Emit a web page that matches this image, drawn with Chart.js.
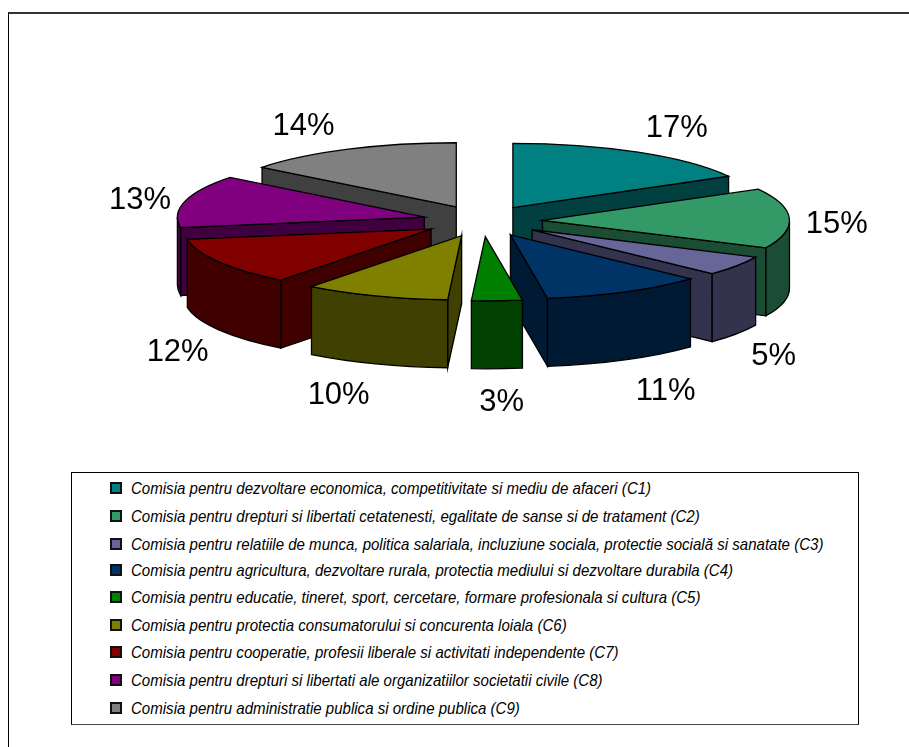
<!DOCTYPE html>
<html>
<head>
<meta charset="utf-8">
<style>
html, body { margin: 0; padding: 0; background: #fff; }
#wrap { position: relative; width: 909px; height: 747px; overflow: hidden; }
#frame { position: absolute; left: 8px; top: 12px; width: 901px; height: 735px; border-left: 1.5px solid #000; border-top: 2px solid #333; box-sizing: border-box; }
#myChart { position: absolute; left: 0; top: 0; }
#legendBox { position: absolute; left: 71px; top: 472px; width: 788px; height: 253px; box-sizing: border-box; border: 1px solid #000; border-bottom-color: #444; background: #fff; }
.row { position: absolute; left: 38px; height: 18px; white-space: nowrap; }
.swatch { position: absolute; left: 0; top: 3px; width: 12px; height: 12px; box-sizing: border-box; border: 2px solid #111; }
.text { position: absolute; left: 21px; top: 1px; font: italic 17px/18px "Liberation Sans", Arial, sans-serif; color: #000; transform-origin: 0 50%; transform: scaleX(0.885); }
</style>
</head>
<body>
<div id="wrap">
  <div id="frame"></div>
  <canvas id="myChart" width="909" height="747"></canvas>
  <div id="legendBox"></div>
</div>
<script src="https://cdn.jsdelivr.net/npm/chart.js@4"></script>
<script>
const categories = [
    "Comisia pentru dezvoltare economica, competitivitate si mediu de afaceri (C1)",
    "Comisia pentru drepturi si libertati cetatenesti, egalitate de sanse si de tratament (C2)",
    "Comisia pentru relatiile de munca, politica salariala, incluziune sociala, protectie socială si sanatate (C3)",
    "Comisia pentru agricultura, dezvoltare rurala, protectia mediului si dezvoltare durabila (C4)",
    "Comisia pentru educatie, tineret, sport, cercetare, formare profesionala si cultura (C5)",
    "Comisia pentru protectia consumatorului si concurenta loiala (C6)",
    "Comisia pentru cooperatie, profesii liberale si activitati independente (C7)",
    "Comisia pentru drepturi si libertati ale organizatiilor societatii civile (C8)",
    "Comisia pentru administratie publica si ordine publica (C9)"
];
const shares = [16.9, 15.1, 5, 10.6, 3.3, 9.5, 12, 13.2, 14.4];
const shareLabels = ["17%", "15%", "5%", "11%", "3%", "10%", "12%", "13%", "14%"];
const topColors = ["#008080", "#339966", "#666699", "#003366", "#008000", "#808000", "#800000", "#800080", "#808080"];
const wallColors = ["#004040", "#1a4d33", "#33334d", "#001a33", "#004000", "#404000", "#400000", "#400040", "#404040"];

// label nudges from the default anchor
const labelNudge = [[16, -14], [2.5, 7], [0, 16], [19.5, 21], [2.5, 22], [-21.5, 21], [-3, 16], [-1.5, 2], [-25, -12]];
const legendRows = [488, 516, 544, 570, 597, 625, 652, 680, 708];

const SQUASH = 0.26;
const DEPTH = 68;
const EXPLODE = 60;

function slicePos(el) {
    const mid = (el.startAngle + el.endAngle) / 2;
    return {
        x: el.x + EXPLODE * Math.cos(mid),
        y: el.y + EXPLODE * SQUASH * Math.sin(mid)
    };
}

function drawWalls(ctx, el, tip, color) {
    const r = el.outerRadius, ry = r * SQUASH;
    const pt = a => [tip.x + r * Math.cos(a), tip.y + ry * Math.sin(a)];
    ctx.fillStyle = color;
    ctx.strokeStyle = "#000";
    ctx.lineWidth = 1.3;
    const radial = a => {
        const p = pt(a);
        ctx.beginPath();
        ctx.moveTo(tip.x, tip.y);
        ctx.lineTo(p[0], p[1]);
        ctx.lineTo(p[0], p[1] + DEPTH);
        ctx.lineTo(tip.x, tip.y + DEPTH);
        ctx.closePath();
        ctx.fill();
        ctx.stroke();
    };
    // only the faces turned to the viewer
    const startTh = el.startAngle + Math.PI / 2, endTh = el.endAngle + Math.PI / 2;
    if (Math.sin(startTh) < -0.001) radial(el.startAngle);
    if (Math.sin(endTh) > 0.001) radial(el.endAngle);
    const a0 = Math.max(el.startAngle, 0), a1 = Math.min(el.endAngle, Math.PI);
    if (a1 > a0) {
        ctx.beginPath();
        ctx.ellipse(tip.x, tip.y, r, ry, 0, a0, a1);
        ctx.ellipse(tip.x, tip.y + DEPTH, r, ry, 0, a1, a0, true);
        ctx.closePath();
        ctx.fill();
        ctx.stroke();
    }
}

const pie3d = {
    id: "pie3d",
    beforeDatasetDraw(chart, args) {
        const ctx = chart.ctx;
        const arcs = args.meta.data.map((el, i) => ({ el, i, tip: slicePos(el) }));
        arcs.sort((a, b) => a.tip.y - b.tip.y);
        arcs.forEach(({ el, i, tip }) => {
            drawWalls(ctx, el, tip, wallColors[i]);
            // top face comes from the arc element itself
            ctx.save();
            ctx.translate(tip.x, tip.y);
            ctx.scale(1, SQUASH);
            ctx.translate(-el.x, -el.y);
            el.draw(ctx);
            ctx.restore();
            ctx.beginPath();
            ctx.moveTo(tip.x, tip.y);
            ctx.ellipse(tip.x, tip.y, el.outerRadius, el.outerRadius * SQUASH, 0, el.startAngle, el.endAngle);
            ctx.closePath();
            ctx.strokeStyle = "#000";
            ctx.lineWidth = 1.3;
            ctx.stroke();
        });
        return false;
    },
    afterDatasetsDraw(chart) {
        const ctx = chart.ctx;
        ctx.save();
        ctx.font = '31px "Liberation Sans", Arial, sans-serif';
        ctx.fillStyle = "#000";
        ctx.textAlign = "center";
        ctx.textBaseline = "middle";
        chart.getDatasetMeta(0).data.forEach((el, i) => {
            const mid = (el.startAngle + el.endAngle) / 2;
            const R = el.outerRadius + EXPLODE + 45;
            const x = el.x + R * Math.cos(mid) + labelNudge[i][0];
            const y = el.y + R * SQUASH * Math.sin(mid) + (Math.sin(mid) > 0 ? DEPTH : 0) + labelNudge[i][1];
            ctx.fillText(shareLabels[i], x, y);
        });
        ctx.restore();
    }
};

new Chart("myChart", {
    type: "pie",
    data: {
        labels: categories,
        datasets: [{
            data: shares,
            backgroundColor: topColors,
            borderWidth: 0
        }]
    },
    options: {
        responsive: false,
        animation: false,
        radius: 247,
        layout: { padding: { left: 56, right: 0, top: 0, bottom: 305 } },
        plugins: {
            legend: { display: false },
            tooltip: { enabled: false }
        }
    },
    plugins: [pie3d]
});

const legendBox = document.getElementById("legendBox");
categories.forEach((name, i) => {
    const row = document.createElement("div");
    row.className = "row";
    row.style.top = (legendRows[i] - 9 - 473) + "px";
    row.innerHTML = '<span class="swatch" style="background:' + topColors[i] + '"></span><span class="text">' + name + "</span>";
    legendBox.appendChild(row);
});
</script>
</body>
</html>
